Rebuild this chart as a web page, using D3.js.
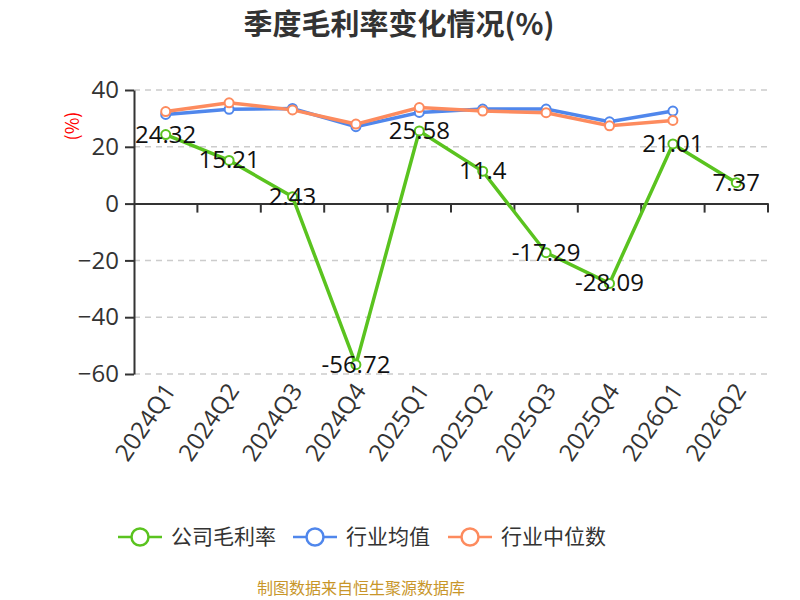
<!DOCTYPE html>
<head>
  <meta charset="utf-8">
  <script src="https://d3js.org/d3.v7.min.js"></script>
  <style>
    body { margin: 0; background: #fff; }
    svg { width: 800px; height: 600px; font-family: "Noto Sans CJK SC", "Open Sans", sans-serif; }
  </style>
</head>

<body>
  <svg></svg>

  <script>
    const width = 800;
    const height = 600;

    // quarters on the x axis
    const quarters = ['2024Q1', '2024Q2', '2024Q3', '2024Q4', '2025Q1',
      '2025Q2', '2025Q3', '2025Q4', '2026Q1', '2026Q2'];
    // company gross margin (%)
    const companyMargin = [24.32, 15.21, 2.43, -56.72, 25.58, 11.4, -17.29, -28.09, 21.01, 7.37];
    // industry average / median, no value for the last quarter
    const industryMean = [31.4, 33.2, 33.5, 27.1, 32.1, 33.3, 33.3, 28.8, 32.6, null];
    const industryMedian = [32.4, 35.5, 33.0, 28.0, 33.8, 32.6, 32.0, 27.4, 29.3, null];
    const yTicks = [40, 20, 0, -20, -40, -60];

    const seriesNames = ['公司毛利率', '行业均值', '行业中位数'];
    const colors = ['#5ac31f', '#5087ec', '#fd8b5e'];

    const svg = d3.select('svg');

    // scales
    const x = d3.scaleBand()
      .domain(quarters)
      .range([134, 768]);
    const y = d3.scaleLinear()
      .domain([-60, 40])
      .range([374, 90]);

    // title
    svg.append('text')
      .attr('x', 399)
      .attr('y', 35)
      .attr('text-anchor', 'middle')
      .attr('font-size', 29)
      .attr('font-weight', 'bold')
      .attr('fill', '#333')
      .text('季度毛利率变化情况(%)');

    // gridlines
    svg.append('g')
      .selectAll('line')
      .data(yTicks.filter(d => d !== 0))
      .join('line')
      .attr('x1', 134)
      .attr('x2', 768)
      .attr('y1', d => y(d))
      .attr('y2', d => y(d))
      .attr('stroke', '#ccc')
      .attr('stroke-width', 1.5)
      .attr('stroke-dasharray', '6,5');

    // y axis
    const yAxis = svg.append('g')
      .attr('transform', 'translate(134,0)')
      .call(d3.axisLeft(y).tickValues(yTicks).tickSize(9).tickPadding(6).tickSizeOuter(0));
    yAxis.select('.domain').attr('stroke', '#333').attr('stroke-width', 2);
    yAxis.selectAll('.tick line').attr('stroke', '#333').attr('stroke-width', 2);
    yAxis.selectAll('.tick text')
      .attr('font-size', 24)
      .attr('fill', '#333')
      .attr('font-family', '"Open Sans", sans-serif');

    // unit label
    svg.append('text')
      .attr('transform', 'translate(73,126)rotate(-90)')
      .attr('text-anchor', 'middle')
      .attr('dy', '0.35em')
      .attr('font-size', 18)
      .attr('fill', 'red')
      .text('(%)');

    // x axis at zero
    const xAxis = svg.append('g')
      .attr('transform', `translate(0,${y(0)})`)
      .call(d3.axisBottom(x).tickSize(9).tickFormat('').tickSizeOuter(0));
    xAxis.select('.domain').attr('stroke', '#333').attr('stroke-width', 2);
    xAxis.selectAll('.tick line')
      .attr('stroke', '#333')
      .attr('stroke-width', 2)
      .attr('transform', `translate(${x.bandwidth() / 2},0)`);

    // rotated category labels below the plot
    svg.append('g')
      .selectAll('text')
      .data(quarters)
      .join('text')
      .attr('transform', d => `translate(${x(d) + x.bandwidth() / 2 + 4},${y(-60) + 12})rotate(-56)`)
      .attr('text-anchor', 'end')
      .attr('dy', '0.35em')
      .attr('font-size', 24)
      .attr('fill', '#333')
      .attr('font-family', '"Open Sans", sans-serif')
      .text(d => d);

    // lines
    const cx = d => x(d) + x.bandwidth() / 2;

    function drawSeries(values, color) {
      const pts = quarters.map((q, i) => ({ q, v: values[i] })).filter(d => d.v !== null);
      const line = d3.line().x(d => cx(d.q)).y(d => y(d.v));
      svg.append('path')
        .datum(pts)
        .attr('fill', 'none')
        .attr('stroke', color)
        .attr('stroke-width', 3.5)
        .attr('d', line);
      svg.append('g')
        .selectAll('circle')
        .data(pts)
        .join('circle')
        .attr('cx', d => cx(d.q))
        .attr('cy', d => y(d.v))
        .attr('r', 4.5)
        .attr('fill', '#fff')
        .attr('stroke', color)
        .attr('stroke-width', 2);
    }

    // draw industry first, company on top
    drawSeries(industryMean, colors[1]);
    drawSeries(industryMedian, colors[2]);
    drawSeries(companyMargin, colors[0]);

    // value labels for company
    svg.append('g')
      .selectAll('text')
      .data(companyMargin)
      .join('text')
      .attr('x', (d, i) => cx(quarters[i]))
      .attr('y', d => y(d) + 8)
      .attr('text-anchor', 'middle')
      .attr('font-size', 24)
      .attr('fill', '#111')
      .attr('font-family', '"Open Sans", sans-serif')
      .text(d => d);

    // legend
    const legendX = [118, 293, 448];
    const legend = svg.append('g')
      .selectAll('g')
      .data(seriesNames)
      .join('g')
      .attr('transform', (d, i) => `translate(${legendX[i]},537)`);
    legend.append('line')
      .attr('x1', 0).attr('x2', 44)
      .attr('stroke', (d, i) => colors[i])
      .attr('stroke-width', 2.5);
    legend.append('circle')
      .attr('cx', 22)
      .attr('r', 8.5)
      .attr('fill', '#fff')
      .attr('stroke', (d, i) => colors[i])
      .attr('stroke-width', 2.5);
    legend.append('text')
      .attr('x', 53)
      .attr('dy', '0.35em')
      .attr('font-size', 21)
      .attr('fill', '#333')
      .text(d => d);

    // source note
    svg.append('text')
      .attr('x', 361)
      .attr('y', 594)
      .attr('text-anchor', 'middle')
      .attr('font-size', 16)
      .attr('fill', '#c8962a')
      .text('制图数据来自恒生聚源数据库');
  </script>
</body>
